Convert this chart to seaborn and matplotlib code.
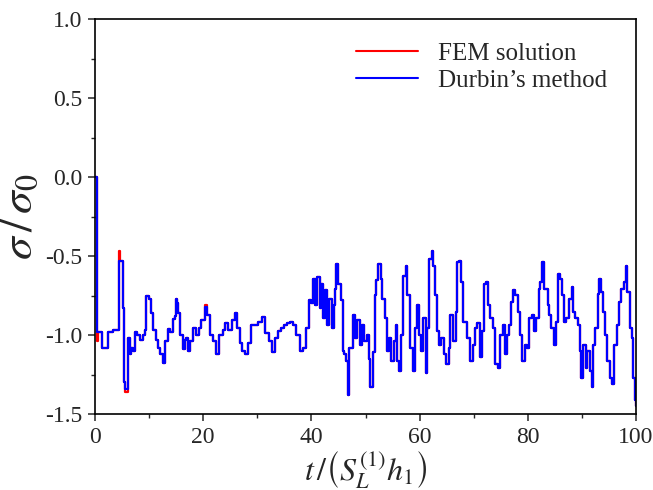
import numpy as np
import pandas as pd
import matplotlib
matplotlib.use("Agg")
import matplotlib.pyplot as plt
from matplotlib.ticker import MultipleLocator, FormatStrFormatter
import seaborn as sns

# ---- data ----
t_vals = [0.0, 0.35, 0.6, 1.2, 2.4, 3.3, 4.4, 4.7, 5.1, 5.35, 5.6, 6.1, 6.4, 6.7, 7.0, 7.3,
          7.8, 8.3, 8.8, 9.2, 9.5, 10.0, 10.4, 10.7, 11.3, 11.7, 12.1, 12.5, 12.9, 13.5,
          13.8, 14.4, 14.7, 15.0, 15.2, 15.4, 15.8, 16.2, 16.6, 16.9, 17.2, 17.6, 18.1,
          18.7, 19.3, 19.6, 20.3, 20.7, 21.2, 21.8, 22.3, 23.0, 23.6, 24.1, 24.5, 25.3,
          25.9, 26.3, 26.8, 27.2, 27.8, 28.3, 28.9, 29.6, 30.2, 30.8, 31.5, 32.1, 32.8,
          33.3, 33.8, 34.4, 35.0, 35.5, 36.0, 36.6, 37.2, 37.8, 38.4, 39.0, 39.5, 40.0,
          40.3, 40.7, 41.1, 41.5, 41.8, 42.1, 42.5, 42.9, 43.3, 43.8, 44.1, 44.3, 44.6,
          44.9, 45.5, 45.8, 46.1, 46.4, 46.7, 47.0, 47.7, 48.1, 48.5, 48.9, 49.3, 49.8,
          50.3, 50.7, 50.9, 51.4, 51.7, 52.0, 52.3, 52.8, 53.1, 53.6, 53.9, 54.4, 54.8,
          55.2, 55.6, 55.8, 56.2, 56.6, 56.9, 57.4, 57.7, 58.2, 58.7, 59.1, 59.5, 59.9,
          60.3, 60.6, 61.1, 61.4, 61.8, 62.2, 62.5, 62.8, 63.2, 63.6, 64.0, 64.5, 64.9,
          65.4, 65.7, 66.2, 66.7, 67.0, 67.3, 67.7, 68.0, 68.7, 69.4, 69.8, 70.3, 70.6,
          71.1, 71.5, 71.9, 72.3, 72.6, 73.1, 73.5, 74.0, 74.4, 74.9, 75.4, 75.8, 76.2,
          76.6, 76.9, 77.2, 77.6, 78.1, 78.5, 78.9, 79.4, 79.9, 80.3, 80.7, 81.1, 81.5,
          82.0, 82.3, 82.6, 82.9, 83.4, 83.7, 84.0, 84.3, 84.8, 85.2, 85.5, 85.9, 86.3,
          86.7, 87.1, 87.6, 88.1, 88.4, 88.8, 89.2, 89.6, 89.9, 90.2, 90.7, 91.0, 91.5,
          91.8, 92.1, 92.4, 92.9, 93.1, 93.5, 93.9, 94.3, 94.7, 95.1, 95.6, 95.9, 96.4,
          96.8, 97.3, 97.8, 98.1, 98.4, 98.9, 99.2, 99.5, 99.8, 100.0]

durbin_vals = [0.0, -0.98, -0.98, -1.08, -0.98, -0.97, -0.53, -0.53, -0.83, -1.30, -1.34, -1.02,
               -1.12, -1.08, -1.10, -0.98, -1.00, -1.03, -1.00, -0.97, -0.75, -0.77, -0.86,
               -0.97, -1.03, -1.08, -1.12, -1.175, -1.04, -0.96, -0.98, -0.90, -0.88, -0.77,
               -0.80, -0.86, -1.00, -1.09, -1.03, -1.02, -1.10, -1.04, -0.956, -1.00, -0.956,
               -0.904, -0.82, -0.873, -1.00, -1.04, -1.12, -1.00, -0.967, -0.925, -0.967,
               -0.904, -0.86, -0.956, -1.05, -1.10, -1.12, -1.05, -0.935, -0.935, -0.915,
               -0.883, -0.988, -1.04, -1.11, -1.02, -0.977, -0.956, -0.935, -0.925, -0.915,
               -0.935, -1.00, -1.10, -1.08, -0.956, -0.78, -0.80, -0.644, -0.81, -0.633,
               -0.83, -0.675, -0.894, -0.717, -0.935, -0.77, -0.956, -0.81, -0.706, -0.55,
               -0.675, -0.78, -1.10, -1.12, -1.164, -1.38, -1.08, -0.873, -1.02, -0.904,
               -1.06, -0.935, -1.04, -1.00, -1.154, -1.33, -1.11, -0.748, -0.654, -0.55,
               -0.644, -0.77, -0.894, -1.10, -1.02, -1.164, -1.04, -0.935, -1.164, -1.23,
               -1.00, -0.623, -0.56, -0.748, -1.08, -1.23, -0.956, -0.81, -1.00, -1.10,
               -0.894, -1.24, -0.956, -0.52, -0.466, -0.56, -0.748, -0.977, -1.06, -1.02,
               -1.12, -1.185, -1.08, -0.873, -1.04, -0.852, -0.54, -0.53, -0.665, -0.915,
               -1.02, -1.164, -1.06, -0.956, -0.925, -1.14, -0.977, -0.675, -0.665, -0.81,
               -0.894, -0.956, -1.185, -1.206, -1.00, -0.935, -1.12, -1.00, -0.935, -0.79,
               -0.717, -0.748, -0.852, -1.00, -1.164, -1.06, -1.08, -0.894, -0.873, -0.977,
               -0.894, -0.706, -0.665, -0.54, -0.706, -0.706, -0.81, -0.873, -0.956, -1.06,
               -0.915, -0.613, -0.644, -0.748, -0.915, -0.894, -0.77, -0.696, -0.852,
               -0.894, -0.935, -1.10, -1.27, -1.06, -1.206, -1.10, -1.23, -1.33, -1.06,
               -0.956, -0.737, -0.644, -0.727, -0.852, -1.00, -1.164, -1.27, -1.31, -1.06,
               -0.935, -0.79, -0.706, -0.665, -0.56, -0.727, -0.956, -1.02, -1.27, -1.41,
               -1.45]

# FEM solution: same curve except where the red line peeks out in the reference
fem_vals = [0.0, -1.04, -0.98, -1.08, -0.98, -0.97, -0.47, -0.53, -0.83, -1.30, -1.36, -1.02,
            -1.12, -1.08, -1.10, -0.98, -1.00, -1.03, -1.00, -0.97, -0.75, -0.77, -0.86,
            -0.97, -1.03, -1.08, -1.12, -1.175, -1.04, -0.96, -0.98, -0.90, -0.88, -0.77,
            -0.80, -0.86, -1.00, -1.09, -1.03, -1.02, -1.10, -1.04, -0.956, -1.00, -0.956,
            -0.904, -0.81, -0.873, -1.00, -1.04, -1.12, -1.00, -0.967, -0.925, -0.967,
            -0.904, -0.86, -0.956, -1.05, -1.10, -1.12, -1.05, -0.935, -0.935, -0.915,
            -0.883, -0.988, -1.04, -1.11, -1.02, -0.977, -0.956, -0.935, -0.925, -0.915,
            -0.935, -1.00, -1.10, -1.08, -0.956, -0.78, -0.80, -0.644, -0.81, -0.633,
            -0.83, -0.675, -0.894, -0.717, -0.935, -0.77, -0.956, -0.81, -0.706, -0.55,
            -0.675, -0.78, -1.10, -1.12, -1.164, -1.38, -1.08, -0.873, -1.02, -0.904,
            -1.06, -0.935, -1.04, -1.00, -1.154, -1.33, -1.11, -0.748, -0.654, -0.55,
            -0.644, -0.77, -0.894, -1.10, -1.02, -1.164, -1.04, -0.935, -1.164, -1.23,
            -1.00, -0.623, -0.56, -0.748, -1.08, -1.23, -0.956, -0.81, -1.00, -1.10,
            -0.894, -1.24, -0.956, -0.52, -0.466, -0.56, -0.748, -0.977, -1.06, -1.02,
            -1.12, -1.185, -1.08, -0.873, -1.04, -0.852, -0.54, -0.53, -0.665, -0.915,
            -1.02, -1.164, -1.06, -0.956, -0.925, -1.14, -0.977, -0.675, -0.665, -0.81,
            -0.894, -0.956, -1.185, -1.206, -1.00, -0.935, -1.12, -1.00, -0.935, -0.79,
            -0.717, -0.748, -0.852, -1.00, -1.164, -1.06, -1.08, -0.894, -0.873, -0.977,
            -0.894, -0.706, -0.665, -0.54, -0.706, -0.706, -0.81, -0.873, -0.956, -1.06,
            -0.915, -0.613, -0.644, -0.748, -0.915, -0.894, -0.77, -0.696, -0.852,
            -0.894, -0.935, -1.10, -1.27, -1.06, -1.206, -1.10, -1.23, -1.33, -1.06,
            -0.956, -0.737, -0.644, -0.727, -0.852, -1.00, -1.164, -1.27, -1.31, -1.06,
            -0.935, -0.79, -0.706, -0.665, -0.56, -0.727, -0.956, -1.02, -1.27, -1.41,
            -1.45]

series_names = ["FEM solution", "Durbin\u2019s method"]
series_colors = ["#ff0000", "#0000ff"]

x_ticks = [0, 20, 40, 60, 80, 100]
y_ticks = [-1.5, -1.0, -0.5, 0.0, 0.5, 1.0]

# ---- styling ----
sns.set_style("ticks")
plt.rcParams["font.family"] = ["Liberation Serif", "DejaVu Serif"]
plt.rcParams["mathtext.fontset"] = "stix"
plt.rcParams["axes.linewidth"] = 1.2

fig = plt.figure(figsize=(6.53, 4.90), dpi=100)
ax = fig.add_axes([0.1455, 0.155, 0.8285, 0.806])

df_fem = pd.DataFrame({"t": t_vals, "v": fem_vals})
df_dur = pd.DataFrame({"t": t_vals, "v": durbin_vals})

sns.lineplot(data=df_fem, x="t", y="v", ax=ax, color=series_colors[0], lw=1.6,
             drawstyle="steps-post", label=series_names[0], estimator=None, sort=False)
sns.lineplot(data=df_dur, x="t", y="v", ax=ax, color=series_colors[1], lw=1.6,
             drawstyle="steps-post", label=series_names[1], estimator=None, sort=False)

ax.set_xlim(0, 100)
ax.set_ylim(-1.5, 1.0)
ax.set_xticks(x_ticks)
ax.set_yticks(y_ticks)
ax.xaxis.set_minor_locator(MultipleLocator(10))
ax.yaxis.set_minor_locator(MultipleLocator(0.25))
ax.yaxis.set_major_formatter(FormatStrFormatter("%.1f"))
ax.tick_params(which="major", direction="out", length=5, width=1.1, labelsize=17,
               top=False, right=False, pad=4)
ax.tick_params(which="minor", direction="out", length=3, width=1.0, top=False, right=False)
for s in ax.spines.values():
    s.set_visible(True)
    s.set_linewidth(1.2)
    s.set_color("black")

ax.set_xlabel(r"$t\,/\left(S_L^{(1)}h_1\right)$", fontsize=23, labelpad=0)
ax.set_ylabel(r"$\sigma\,/\,\sigma_0$", fontsize=33, labelpad=2)

leg = ax.legend(loc="upper right", bbox_to_anchor=(0.975, 0.98), frameon=False,
                fontsize=18, handlelength=2.5, handletextpad=0.8, labelspacing=0.2,
                borderaxespad=0.2)
for line in leg.get_lines():
    line.set_linewidth(1.5)

fig.savefig("out.png", dpi=100)
